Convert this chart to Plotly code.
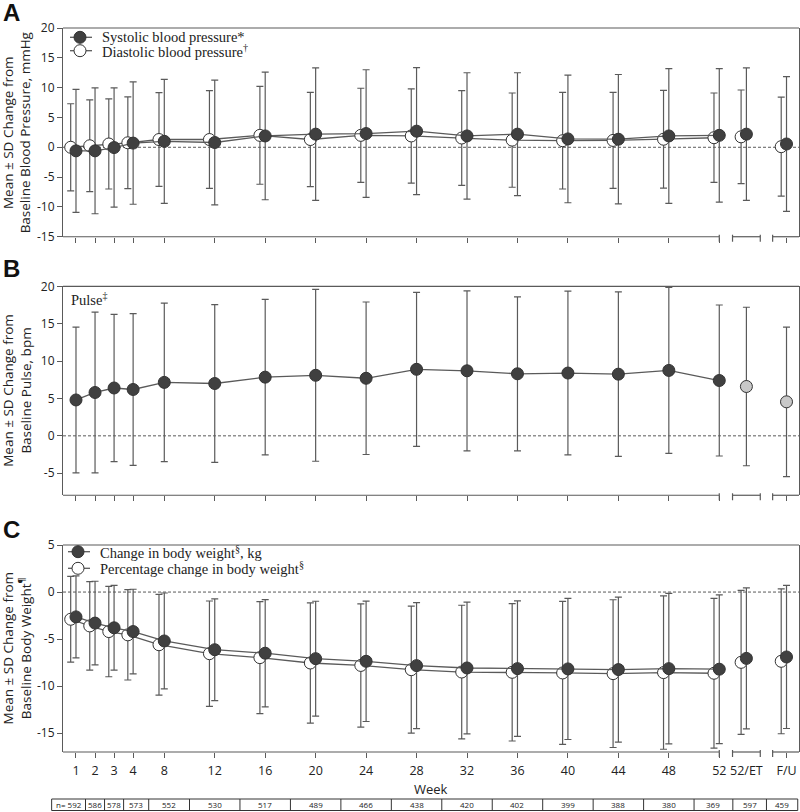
import plotly.graph_objects as go

# visit labels and number of patients per visit
visits = ["1", "2", "3", "4", "8", "12", "16", "20", "24", "28", "32", "36", "40", "44", "48", "52", "52/ET", "F/U"]
n_pts = [592, 586, 578, 573, 552, 530, 517, 489, 466, 438, 420, 402, 399, 388, 380, 369, 597, 459]

# panel A: blood pressure, mmHg
sbp_mean = [-0.6, -0.6, -0.05, 0.7, 1.0, 0.8, 1.9, 2.2, 2.3, 2.7, 1.9, 2.2, 1.4, 1.35, 1.9, 2.0, 2.2, 0.55]
sbp_sd = [10.3, 10.55, 10.0, 10.25, 10.4, 10.45, 10.7, 11.1, 10.7, 10.65, 10.6, 10.3, 10.7, 10.85, 11.3, 11.2, 11.1, 11.3]
dbp_mean = [0.0, 0.25, 0.55, 0.75, 1.3, 1.3, 2.0, 1.3, 2.0, 1.9, 1.55, 1.2, 1.1, 1.15, 1.35, 1.6, 1.75, 0.1]
dbp_sd = [7.3, 7.7, 7.55, 7.7, 7.85, 8.2, 8.2, 7.9, 7.9, 7.9, 7.95, 7.9, 8.1, 8.05, 8.2, 7.5, 7.85, 8.3]

# panel B: pulse, bpm
pulse_mean = [4.8, 5.8, 6.4, 6.2, 7.15, 7.0, 7.85, 8.1, 7.7, 8.9, 8.7, 8.3, 8.4, 8.25, 8.75, 7.4, 6.6, 4.55]
pulse_sd = [9.75, 10.75, 9.85, 10.15, 10.6, 10.55, 10.4, 11.5, 10.2, 10.3, 10.7, 10.3, 10.95, 11.0, 11.1, 10.1, 10.6, 10.0]

# panel C: body weight (kg and %)
wt_kg_mean = [-2.64, -3.3, -3.8, -4.2, -5.2, -6.13, -6.5, -7.08, -7.36, -7.82, -8.07, -8.14, -8.17, -8.24, -8.14, -8.2, -7.05, -6.9]
wt_kg_sd = [4.35, 4.45, 4.5, 4.5, 5.1, 5.4, 5.7, 6.1, 6.4, 6.7, 7.0, 7.2, 7.5, 7.7, 8.0, 7.9, 7.5, 7.6]
wt_pct_mean = [-2.89, -3.6, -4.2, -4.55, -5.6, -6.55, -6.97, -7.54, -7.8, -8.25, -8.5, -8.53, -8.6, -8.67, -8.56, -8.63, -7.47, -7.36]
wt_pct_sd = [4.56, 4.7, 4.8, 4.8, 5.35, 5.6, 5.95, 6.4, 6.55, 6.75, 7.1, 7.3, 7.6, 7.85, 8.15, 7.95, 7.65, 7.7]


# ---- layout of the x scale: early weeks stretched, ET / F/U set apart
def slot(label):
    if label == "52/ET":
        return 54.15
    if label == "F/U":
        return 57.33
    w = int(label)
    return 1 + (w - 1) * 1.51 if w <= 4 else w


x_pos = [slot(v) for v in visits]
X_RANGE = [-0.03, 58.32]
SHIFT = -0.42  # open-circle series drawn a little to the left
N_WEEKS = 16   # points joined by a line (weeks 1..52)

DOMAINS = {"A": [0.7117, 1.0], "B": [0.3546, 0.6432], "C": [0.0, 0.2859]}
Y_RANGES = {"A": [-15, 20], "B": [-7.95, 20], "C": [-17, 5]}
AXES = {"A": ("x", "y"), "B": ("x2", "y2"), "C": ("x3", "y3")}

DARK = "#404040"
GREY = "#5a5a5a"
SANS = "Open Sans"
SERIF = "Liberation Serif"
PLOT_TOP, PLOT_H, PLOT_L, PLOT_W = 28, 724, 63, 736


def px(v):
    return (v - X_RANGE[0]) / (X_RANGE[1] - X_RANGE[0])


def pap_x(pixel):
    return (pixel - PLOT_L) / PLOT_W


def pap_y(pixel):
    return (PLOT_TOP + PLOT_H - pixel) / PLOT_H


fig = go.Figure()


def add_series(panel, mean, sd, fill, shift=0.0, extra_fill=None):
    xa, ya = AXES[panel]
    xs = [p + shift for p in x_pos]
    common = dict(xaxis=xa, yaxis=ya, showlegend=False)
    fig.add_trace(go.Scatter(
        x=xs[:N_WEEKS], y=mean[:N_WEEKS],
        error_y=dict(type="data", array=sd[:N_WEEKS], color=GREY, thickness=1.2, width=3.5),
        mode="lines+markers",
        line=dict(color=GREY, width=1.3),
        marker=dict(size=12, color=fill, line=dict(color="#333333", width=1)),
        **common))
    fig.add_trace(go.Scatter(
        x=xs[N_WEEKS:], y=mean[N_WEEKS:],
        error_y=dict(type="data", array=sd[N_WEEKS:], color=GREY, thickness=1.2, width=3.5),
        mode="markers",
        marker=dict(size=12, color=extra_fill or fill, line=dict(color="#333333", width=1)),
        **common))


# panel A (open circles underneath)
add_series("A", dbp_mean, dbp_sd, "white", SHIFT)
add_series("A", sbp_mean, sbp_sd, DARK)
# panel B
add_series("B", pulse_mean, pulse_sd, DARK, extra_fill="#c8c8c8")
# panel C
add_series("C", wt_pct_mean, wt_pct_sd, "white", SHIFT)
add_series("C", wt_kg_mean, wt_kg_sd, DARK)

shapes = []
annotations = []
label_ticks = [p for v, p in zip(visits, x_pos) if v != "52/ET"]
et, fu, wk52 = slot("52/ET"), slot("F/U"), slot("52")

for i, panel in enumerate(["A", "B", "C"]):
    xa, ya = AXES[panel]
    d0, d1 = DOMAINS[panel]
    suffix = "" if i == 0 else str(i + 1)
    fig.layout["xaxis" + suffix] = dict(
        domain=[0, 1], anchor=ya, range=X_RANGE, showgrid=False, zeroline=False, showline=False,
        tickvals=x_pos, ticktext=visits, ticks="", showticklabels=(panel == "C"),
        ticklabelstandoff=9, tickfont=dict(family=SANS, size=12.5, color="#222"),
        minor=dict(tickvals=label_ticks, ticks="outside", ticklen=5, tickcolor=GREY, tickwidth=1),
    )
    yt = list(range(-15 if panel != "B" else -5, (20 if panel != "C" else 5) + 1, 5))
    fig.layout["yaxis" + suffix] = dict(
        domain=DOMAINS[panel], anchor=xa, range=Y_RANGES[panel], showgrid=False, zeroline=False,
        showline=True, mirror=True, linecolor=GREY, linewidth=1.2,
        tickvals=yt, ticktext=[str(v) for v in yt], ticks="outside", ticklen=5, tickcolor=GREY,
        tickfont=dict(family=SANS, size=12, color="#222"),
    )
    # top border, dashed zero line
    shapes.append(dict(type="line", xref="paper", yref="paper", x0=0, x1=1, y0=d1, y1=d1,
                       line=dict(color=GREY, width=1.2)))
    shapes.append(dict(type="line", xref="paper", yref=ya, x0=0, x1=1, y0=0, y1=0,
                       line=dict(color=GREY, width=1, dash="3px,2px"), layer="below"))
    # broken bottom axis
    for a, b in [(X_RANGE[0], wk52), (et - 1.1, et + 1.1), (fu - 1.1, X_RANGE[1])]:
        shapes.append(dict(type="line", xref="paper", yref="paper", x0=px(a), x1=px(b), y0=d0, y1=d0,
                           line=dict(color=GREY, width=1.2)))
    for c in [wk52, et - 1.1, et + 1.1, fu - 1.1]:
        shapes.append(dict(type="line", xref="paper", yref="paper", ysizemode="pixel", yanchor=d0,
                           x0=px(c), x1=px(c), y0=-5, y1=2, line=dict(color=GREY, width=1.2)))

# hand-made legends (symbol + text) for panels A and C
legend_rows = [
    ("Systolic blood pressure*", DARK, 80, 37.3, 100),
    ("Diastolic blood pressure<sup>†</sup>", "white", 80, 50.7, 100),
    ("Change in body weight<sup>§</sup>, kg", DARK, 78, 551.7, 97.7),
    ("Percentage change in body weight<sup>§</sup>", "white", 78, 568.3, 97.7),
]
for text, fill, cx, cy, tx in legend_rows:
    shapes.append(dict(type="line", xref="paper", yref="paper", x0=pap_x(cx - 10), x1=pap_x(cx + 12),
                       y0=pap_y(cy), y1=pap_y(cy), line=dict(color=GREY, width=1.3)))
    shapes.append(dict(type="circle", xref="paper", yref="paper", xsizemode="pixel", ysizemode="pixel",
                       xanchor=pap_x(cx), yanchor=pap_y(cy), x0=-6, x1=6, y0=-6, y1=6,
                       fillcolor=fill, line=dict(color="#333333", width=1)))
    annotations.append(dict(text=text, xref="paper", yref="paper", x=pap_x(tx), y=pap_y(cy),
                            showarrow=False, xanchor="left", yanchor="middle",
                            font=dict(family=SERIF, size=14.5, color="#222")))

# y titles and panel letters
titles = {
    "A": "Mean ± SD Change from<br>Baseline Blood Pressure, mmHg",
    "B": "Mean ± SD Change from<br>Baseline Pulse, bpm",
    "C": "Mean ± SD Change from<br>Baseline Body Weight<sup>¶</sup>",
}
letter_y = {"A": 12, "B": 268, "C": 529.5}
for panel in ["A", "B", "C"]:
    d0, d1 = DOMAINS[panel]
    annotations.append(dict(text=titles[panel], xref="paper", yref="paper", x=pap_x(17), y=(d0 + d1) / 2,
                            textangle=-90, showarrow=False, xanchor="center", yanchor="middle",
                            font=dict(family=SANS, size=13.5, color="#222")))
    annotations.append(dict(text="<b>" + panel + "</b>", xref="paper", yref="paper", x=pap_x(1),
                            y=pap_y(letter_y[panel]), showarrow=False, xanchor="left", yanchor="middle",
                            font=dict(family="Liberation Sans", size=24, color="#111")))

annotations.append(dict(text="Pulse<sup>‡</sup>", xref="paper", yref="paper", x=pap_x(69), y=pap_y(299.3),
                        showarrow=False, xanchor="left", yanchor="middle",
                        font=dict(family=SERIF, size=14.5, color="#222")))
annotations.append(dict(text="Week", xref="paper", yref="paper", x=0.5, y=pap_y(789), showarrow=False,
                        xanchor="center", yanchor="middle", font=dict(family=SANS, size=13, color="#222")))

# n-table under the x axis
t_top, t_bot = pap_y(799), pap_y(810.5)
edges = [X_RANGE[0] - 0.9] + [(a + b) / 2 for a, b in zip(x_pos[:-1], x_pos[1:])] + [X_RANGE[1] - 0.1]
shapes.append(dict(type="rect", xref="paper", yref="paper", x0=px(edges[0]), x1=px(edges[-1]),
                   y0=t_bot, y1=t_top, line=dict(color="#333", width=1)))
for e in edges[1:-1]:
    shapes.append(dict(type="line", xref="paper", yref="paper", x0=px(e), x1=px(e), y0=t_bot, y1=t_top,
                       line=dict(color="#333", width=1)))
for i, n in enumerate(n_pts):
    txt = ("n= " if i == 0 else "") + str(n)
    annotations.append(dict(text=txt, xref="paper", yref="paper", x=px((edges[i] + edges[i + 1]) / 2),
                            y=(t_top + t_bot) / 2, showarrow=False, xanchor="center", yanchor="middle",
                            font=dict(family=SANS, size=8, color="#222")))

fig.update_layout(
    width=800, height=812,
    margin=dict(l=PLOT_L, r=800 - PLOT_L - PLOT_W, t=PLOT_TOP, b=812 - PLOT_TOP - PLOT_H),
    paper_bgcolor="white", plot_bgcolor="white",
    shapes=shapes, annotations=annotations, showlegend=False,
)

fig.write_html("out.html", config={"displayModeBar": False},
               post_script="document.body.style.margin='0';document.body.style.overflow='hidden';")
